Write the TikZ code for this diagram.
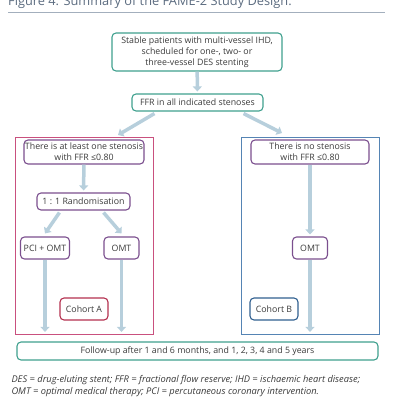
\documentclass[tikz,border=0pt]{standalone}
\usepackage{fontspec}
\setmainfont{Open Sans}
\usetikzlibrary{arrows.meta,positioning,calc}
\definecolor{fameteal}{HTML}{3FA08E}
\definecolor{framepink}{HTML}{C9507E}
\definecolor{cohortred}{HTML}{B3304F}
\definecolor{framablue}{HTML}{5584B4}
\definecolor{cohortblue}{HTML}{2F5F8F}
\definecolor{boxpurple}{HTML}{7B4F8E}
\definecolor{flowblue}{HTML}{B7CFDC}
\definecolor{textgray}{HTML}{3A3A3A}
\definecolor{titlegray}{HTML}{5B6B7F}
\definecolor{rulegray}{HTML}{A3AFBD}

\begin{document}
\begin{tikzpicture}[x=1pt, y=-1pt,
        box/.style={draw, rounded corners=4pt, line width=1.1pt, align=center, inner sep=0.5pt,
            text=textgray, font=\fontsize{8.8}{10.8}\selectfont},
        frame/.style={draw, line width=0.9pt, anchor=north west, inner sep=0pt},
        flow/.style={-{Triangle[width=9pt,length=5pt]}, line width=3.5pt, draw=flowblue},
        caption/.style={anchor=base west, text=textgray, font=\fontsize{9.3}{10}\selectfont\itshape}
    ]
        \useasboundingbox (0,0) rectangle (400,400);

        % Title
        \node[anchor=base west, text=titlegray, font=\fontsize{12.8}{15}\selectfont, inner sep=0pt] (title) at (8,5)
            {Figure 4: Summary of the FAME-2 Study Design:};
        \draw[rulegray, line width=1pt] (8,12) -- (385,12);

        % Cohort frames
        \node[frame, draw=framepink, minimum width=138pt, minimum height=197pt] (frameA) at (15,137) {};
        \node[frame, draw=framablue, minimum width=138pt, minimum height=197pt] (frameB) at (241,137) {};

        % Screening
        \node[box, draw=fameteal, minimum width=170pt, minimum height=38pt] (top) at (197,52) {
            Stable patients with multi-vessel IHD,\\
            scheduled for one-, two- or\\
            three-vessel DES stenting
        };
        \node[box, draw=fameteal, minimum width=131pt, minimum height=17pt] (ffr) at (197.5,102.5)
            {FFR in all indicated stenoses};

        % Cohort A
        \node[box, draw=boxpurple, minimum width=120pt, minimum height=24pt] (stenA) at (84,152) {
            There is at least one stenosis\\
            with FFR ≤0.80
        };
        \node[box, draw=boxpurple, minimum width=93pt, minimum height=17pt] (rand) at (83.5,201.5)
            {1 : 1 Randomisation};
        \node[box, draw=boxpurple, minimum width=49pt, minimum height=22pt, inner sep=0pt] (pci) at (45,248) {PCI + OMT};
        \node[box, draw=boxpurple, minimum width=35pt, minimum height=22pt] (omtA) at (121.5,248) {OMT};
        \node[box, draw=cohortred, minimum width=48pt, minimum height=22pt] (cohortA) at (84,309) {Cohort A};

        % Cohort B
        \node[box, draw=boxpurple, minimum width=118pt, minimum height=24pt] (stenB) at (310,152) {
            There is no stenosis\\
            with FFR ≤0.80
        };
        \node[box, draw=boxpurple, minimum width=35pt, minimum height=22pt] (omtB) at (310,248) {OMT};
        \node[box, draw=cohortblue, minimum width=48pt, minimum height=22pt] (cohortB) at (274,309) {Cohort B};

        % Follow-up
        \node[box, draw=fameteal, minimum width=361pt, minimum height=18pt] (follow) at (197.5,351)
            {Follow-up after 1 and 6 months, and 1, 2, 3, 4 and 5 years};

        % Arrows
        \draw[flow, shorten >=2pt] (top) -- (ffr);
        \draw[flow] ([xshift=23pt,yshift=-2pt]ffr.south west) -- ([xshift=103pt,yshift=2pt]frameA.north west);
        \draw[flow] ([xshift=-20pt,yshift=-2pt]ffr.south east) -- ([xshift=41pt,yshift=4pt]frameB.north west);
        \draw[flow, shorten >=2pt] (stenA) -- (rand);
        \draw[flow] ([xshift=23pt,yshift=-2pt]rand.south west) -- ([yshift=3pt]pci.north);
        \draw[flow] ([xshift=-27pt,yshift=-2pt]rand.south east) -- ([yshift=3pt]omtA.north);
        \draw[flow, shorten >=2pt] (stenB) -- (omtB);
        \draw[flow, shorten >=3pt] (pci) -- (pci |- frameA.south);
        \draw[flow, shorten >=3pt] (omtA) -- (omtA |- frameA.south);
        \draw[flow, shorten >=3pt] (omtB) -- (omtB |- frameB.south);

        % Abbreviations
        \node[caption] (cap1) at (8,382)
            {DES = drug-eluting stent; FFR = fractional flow reserve; IHD = ischaemic heart disease;};
        \node[caption] (cap2) at (8,394)
            {OMT = optimal medical therapy; PCI = percutaneous coronary intervention.};
        \node[caption] (cap3) at (8,408) {Source: De Bruyne et al, 2012.};
    \end{tikzpicture}
\end{document}
